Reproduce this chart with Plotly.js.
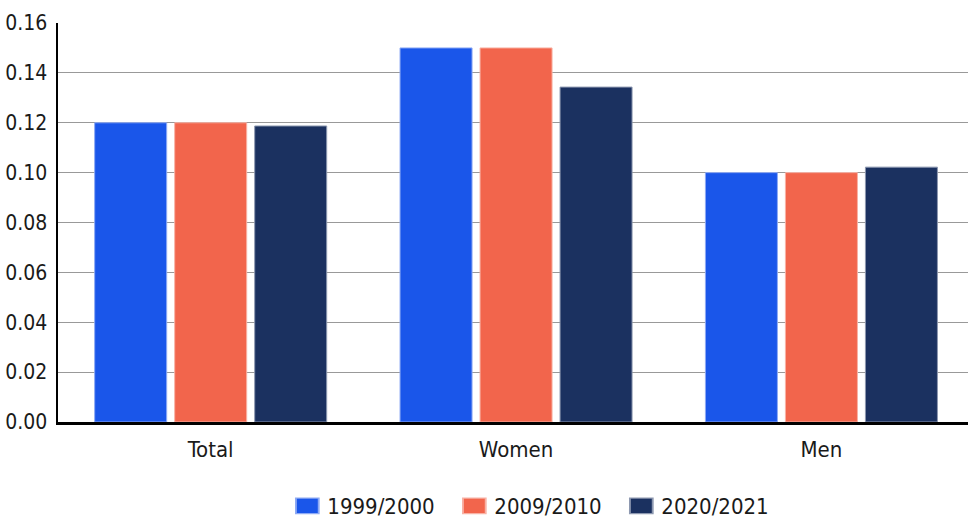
<!DOCTYPE html>
<html><head><meta charset="utf-8">
<script src="https://cdn.plot.ly/plotly-3.0.1.min.js"></script>
<style>html,body{margin:0;padding:0;background:#fff;overflow:hidden}#chart{width:968px;height:519px}
.main-svg text{font-stretch:condensed !important;}
.legendpoints path{transform:translate(20px,0) scale(1.9,1.3) !important;}</style>
</head><body><div id="chart"></div>
<script>
const categories = ["Total", "Women", "Men"];
const seriesNames = ["1999/2000", "2009/2010", "2020/2021"];
const values1999 = [0.120, 0.150, 0.100];
const values2009 = [0.120, 0.150, 0.100];
const values2020 = [0.1187, 0.1343, 0.1022];
const colors = ["#1a56ea", "#f2654c", "#1b3160"];
const lineColors = ["#8eaaf4", "#f8b2a5", "#8d98b0"];
const tickVals = [0, 0.02, 0.04, 0.06, 0.08, 0.10, 0.12, 0.14, 0.16];
const tickText = ["0.00","0.02","0.04","0.06","0.08","0.10","0.12","0.14","0.16"];
const allValues = [values1999, values2009, values2020];
const FONT = '"DejaVu Sans Condensed", "DejaVu Sans", sans-serif';
const traces = allValues.map((v, i) => ({
  type: "bar", x: categories, y: v, name: seriesNames[i],
  marker: {color: colors[i], line: {color: lineColors[i], width: 1}},
  hoverinfo: "skip"
}));
const layout = {
  width: 968, height: 519,
  margin: {l: 58, r: 0, t: 23, b: 97, autoexpand: false},
  barmode: "group", bargap: 0.214, bargroupgap: 0.1,
  paper_bgcolor: "#fff", plot_bgcolor: "#fff",
  font: {family: FONT, size: 22, color: "#1a1a1a"},
  xaxis: {range: [-0.5, 2.48], showline: true, linecolor: "#000", linewidth: 2.5, ticks: "", tickfont: {size: 22}, showgrid: false, ticklabelstandoff: 6, automargin: false},
  yaxis: {range: [0, 0.16], tickvals: tickVals, ticktext: tickText, showline: true, linecolor: "#000", linewidth: 2.5,
          gridcolor: "#999", gridwidth: 1, zeroline: false, ticks: "", tickfont: {size: 21}, ticklabelstandoff: 4, automargin: false},
  legend: {orientation: "h", x: 0.252, xanchor: "left", y: -0.158, yanchor: "top", font: {size: 22}, itemwidth: 30,
           entrywidth: 122, entrywidthmode: "pixels", traceorder: "normal"},
  showlegend: true
};
Plotly.newPlot("chart", traces, layout, {displayModeBar: false, staticPlot: true});
</script></body></html>
